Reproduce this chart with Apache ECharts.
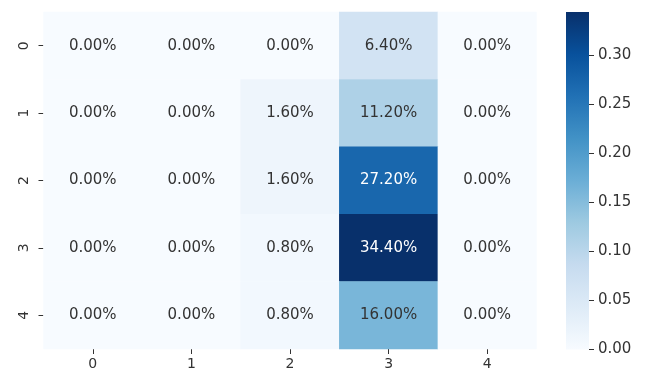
<!DOCTYPE html>
<html>
<head>
<meta charset="utf-8">
<script src="https://cdn.jsdelivr.net/npm/echarts@6/dist/echarts.min.js"></script>
<style>
  html, body { margin: 0; padding: 0; background: #ffffff; }
  #chart { width: 653px; height: 371px; }
</style>
</head>
<body>
<div id="chart"></div>
<script>
// Row / column category labels
const rowLabels = ['0', '1', '2', '3', '4'];
const colLabels = ['0', '1', '2', '3', '4'];

// Share of samples per cell, one array per row
const row0 = [0, 0, 0, 0.064, 0];
const row1 = [0, 0, 0.016, 0.112, 0];
const row2 = [0, 0, 0.016, 0.272, 0];
const row3 = [0, 0, 0.008, 0.344, 0];
const row4 = [0, 0, 0.008, 0.160, 0];
const rows = [row0, row1, row2, row3, row4];

// Colour bar range and tick step
const scaleMin = 0;
const scaleMax = 0.344;
const barStep = 0.05;

// Blues colour ramp
const blues = ['#f7fbff', '#deebf7', '#c6dbef', '#9ecae1', '#6baed6',
               '#4292c6', '#2171b5', '#08519c', '#08306b'];

const cells = [];
rows.forEach((vals, r) => {
  vals.forEach((v, c) => {
    cells.push({
      value: [c, r, v],
      label: { color: v > 0.2 ? '#ffffff' : '#333333' }
    });
  });
});

// Vertical gradient for the colour bar, bottom = min, top = max
const barGradient = new echarts.graphic.LinearGradient(0, 1, 0, 0,
  blues.map((c, i) => ({ offset: i / (blues.length - 1), color: c })));

const FONT = "'DejaVu Sans', sans-serif";
const TEXT = '#333333';
const chart = echarts.init(document.getElementById('chart'), null, { renderer: 'canvas' });

chart.setOption({
  animation: false,
  backgroundColor: '#ffffff',
  grid: [
    { left: 43.5, right: 116.5, top: 12, bottom: 21.5 },
    { left: 566, width: 23, top: 12, bottom: 21.5 }
  ],
  xAxis: [
    {
      gridIndex: 0,
      type: 'category',
      data: colLabels,
      axisLine: { show: false },
      axisTick: { show: true, alignWithLabel: true, length: 5, lineStyle: { color: TEXT, width: 1 } },
      axisLabel: { fontFamily: FONT, fontSize: 14, color: TEXT, margin: 8 },
      splitLine: { show: false }
    },
    {
      gridIndex: 1,
      type: 'category',
      data: ['bar'],
      show: false
    }
  ],
  yAxis: [
    {
      gridIndex: 0,
      type: 'category',
      data: rowLabels,
      inverse: true,
      axisLine: { show: false },
      axisTick: { show: true, alignWithLabel: true, length: 5, lineStyle: { color: TEXT, width: 1 } },
      axisLabel: { fontFamily: FONT, fontSize: 14, color: TEXT, rotate: 90, margin: 12 },
      splitLine: { show: false }
    },
    {
      gridIndex: 1,
      type: 'value',
      position: 'right',
      min: scaleMin,
      max: scaleMax,
      interval: barStep,
      axisLine: { show: false },
      splitLine: { show: false },
      axisTick: { show: true, length: 5, inside: false, lineStyle: { color: TEXT, width: 1 } },
      axisLabel: {
        fontFamily: FONT, fontSize: 15, color: TEXT, margin: 9,
        showMaxLabel: false,
        formatter: v => v.toFixed(2)
      }
    }
  ],
  visualMap: {
    show: false,
    type: 'continuous',
    min: scaleMin,
    max: scaleMax,
    seriesIndex: 0,
    inRange: { color: blues }
  },
  series: [
    {
      type: 'heatmap',
      xAxisIndex: 0,
      yAxisIndex: 0,
      data: cells,
      itemStyle: { borderWidth: 0 },
      label: {
        show: true,
        fontFamily: FONT,
        fontSize: 15,
        formatter: p => (p.value[2] * 100).toFixed(2) + '%'
      },
      emphasis: { disabled: true }
    },
    {
      // colour bar drawn as one full-height bar on the second grid
      type: 'bar',
      xAxisIndex: 1,
      yAxisIndex: 1,
      data: [scaleMax],
      barWidth: '100%',
      barCategoryGap: 0,
      itemStyle: { color: barGradient, borderRadius: 0 },
      label: { show: false },
      emphasis: { disabled: true },
      silent: true
    }
  ]
});
</script>
</body>
</html>
